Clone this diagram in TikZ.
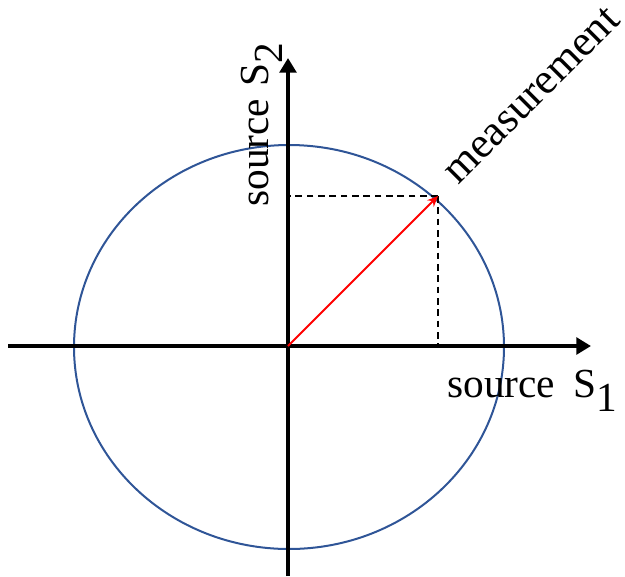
\documentclass[tikz,border=0pt]{standalone}
\usepackage{fontspec}
\setmainfont{Liberation Serif}
\usepackage{xcolor}
\usetikzlibrary{arrows.meta, positioning, calc}
\definecolor{ink}{HTML}{000000}
\definecolor{ringblue}{HTML}{2F5597}
\definecolor{vecred}{HTML}{FF0000}
\newcommand{\sub}[1]{\raisebox{-11pt}{#1}}
\tikzset{
  axis/.style    = {draw=ink, line width=3pt, -{Triangle[length=11pt, width=12.5pt]}},
  ring/.style    = {draw=ringblue, line width=1.5pt},
  vec/.style     = {draw=vecred, line width=1.5pt, -{Stealth[length=8pt, width=7pt]}},
  proj/.style    = {draw=ink, line width=1.1pt, dashed, dash pattern=on 5pt off 3.5pt},
  lbl/.style     = {font=\fontsize{31}{36}\selectfont, text=ink, inner sep=0pt},
}

\begin{document}
\begin{tikzpicture}[x=0.75pt, y=-0.75pt]
  \useasboundingbox (0,0) rectangle (625,576);

  \coordinate (origin) at (288,346);
  \coordinate (xstart) at (8,346);
  \coordinate (xend) at (591,346);
  \coordinate (ystart) at (288,576);
  \coordinate (yend) at (288,58);
  \coordinate (meas) at (438,196);

  % circle of constant norm
  \draw[ring] (289,347) ellipse [x radius=215, y radius=202];

  % projections
  \draw[proj] (meas) -- (origin -| meas);
  \draw[proj] (meas) -- (origin |- meas);

  % axes
  \draw[axis] (xstart) -- (xend);
  \draw[axis] (ystart) -- (yend);

  \draw[vec] (origin) -- (meas);

  \node[lbl, anchor=base west] (s1) at (447,397) {source\hspace{0.45em}S\sub{1}};
  \node[lbl, anchor=base west, rotate=90] (s2) at (268,207) {source\hspace{0.3em}S\sub{2}};
  \node[lbl, anchor=base west, rotate=45, font=\fontsize{32.5}{36}\selectfont] (mlbl) at (458,186) {measurement};
\end{tikzpicture}
\end{document}
